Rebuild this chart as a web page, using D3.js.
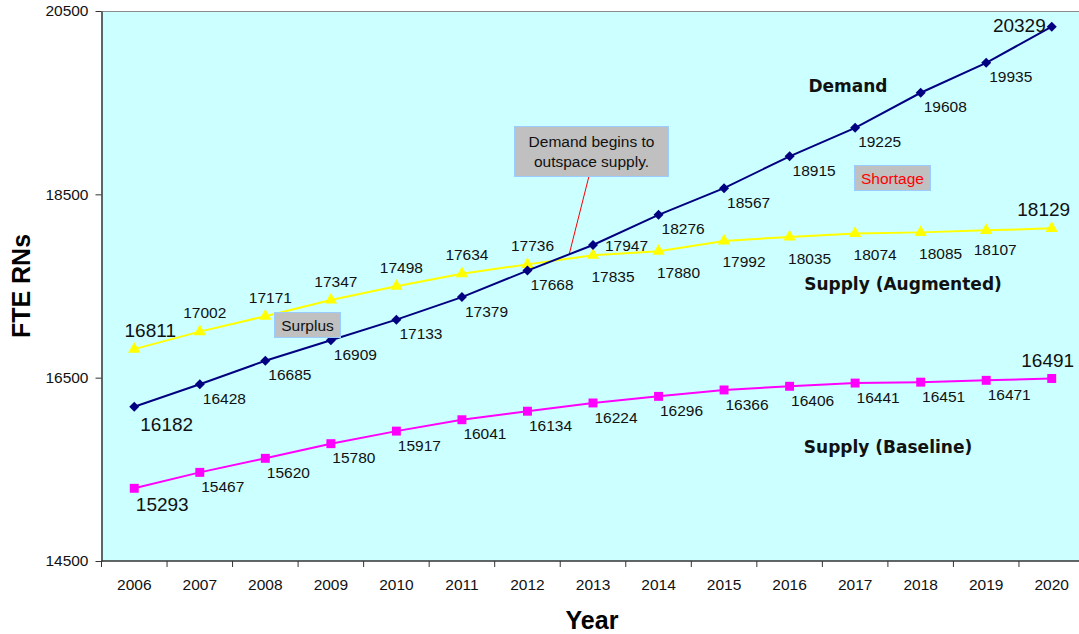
<!DOCTYPE html>
<html>
<head>
<meta charset="utf-8">
<script src="https://cdn.jsdelivr.net/npm/d3@7"></script>
<style>
  html, body { margin: 0; padding: 0; background: #ffffff; }
  svg { display: block; }
</style>
</head>
<body>
<svg id="chart" width="1079" height="634"></svg>
<script>
const categories = ['2006','2007','2008','2009','2010','2011','2012','2013','2014','2015','2016','2017','2018','2019','2020'];
const demand = [16182,16428,16685,16909,17133,17379,17668,17947,18276,18567,18915,19225,19608,19935,20329];
const supplyAugmented = [16811,17002,17171,17347,17498,17634,17736,17835,17880,17992,18035,18074,18085,18107,18129];
const supplyBaseline = [15293,15467,15620,15780,15917,16041,16134,16224,16296,16366,16406,16441,16451,16471,16491];
const yTicks = [14500,16500,18500,20500];
const seriesNames = ['Demand','Supply (Augmented)','Supply (Baseline)'];

(function () {
const svg = d3.select('#chart');
const pLeft = 101.5, pRight = 1084.5, pTop = 11, pBottom = 561;

const x = d3.scaleBand().domain(categories).range([pLeft, pRight]).padding(0);
const cx = c => x(c) + x.bandwidth() / 2;
const y = d3.scaleLinear().domain([14500, 20500]).range([pBottom, pTop]);

// plot background
svg.append('rect').attr('x', pLeft).attr('y', pTop).attr('width', pRight - pLeft).attr('height', pBottom - pTop)
  .attr('fill', '#CCFFFF');
// top border
svg.append('line').attr('x1', pLeft).attr('x2', pRight).attr('y1', pTop + 0.5).attr('y2', pTop + 0.5)
  .attr('stroke', '#8c8c8c').attr('stroke-width', 1);

// Y axis
const yAxis = svg.append('g').attr('transform', `translate(${pLeft},0)`)
  .call(d3.axisLeft(y).tickValues(yTicks).tickSize(6).tickSizeOuter(0).tickPadding(7).tickFormat(d3.format('d')));
yAxis.select('.domain').attr('stroke', '#333').attr('stroke-width', 1.5);
yAxis.selectAll('.tick line').attr('stroke', '#333');
yAxis.selectAll('text').attr('font-family', '"Liberation Sans", Arial, sans-serif').attr('font-size', 15.5).attr('fill', '#111');

// X axis labels
const xAxis = svg.append('g').attr('transform', `translate(0,${pBottom})`)
  .call(d3.axisBottom(x).tickSize(0).tickPadding(18).tickSizeOuter(0));
xAxis.select('.domain').remove();
xAxis.selectAll('text').attr('font-family', '"Liberation Sans", Arial, sans-serif').attr('font-size', 15.5).attr('fill', '#111');
svg.append('line').attr('x1', pLeft).attr('x2', pRight).attr('y1', pBottom).attr('y2', pBottom)
  .attr('stroke', '#333').attr('stroke-width', 1.5);
// boundary tick marks
svg.append('g').selectAll('line').data(categories.concat(['__end']))
  .join('line')
  .attr('x1', d => d === '__end' ? pRight : x(d))
  .attr('x2', d => d === '__end' ? pRight : x(d))
  .attr('y1', pBottom).attr('y2', pBottom + 6)
  .attr('stroke', '#333').attr('stroke-width', 1);

// axis titles
svg.append('text').attr('transform', 'translate(30,286) rotate(-90)')
  .attr('text-anchor', 'middle')
  .attr('font-family', '"Liberation Sans", Arial, sans-serif').attr('font-weight', 'bold').attr('font-size', 25)
  .text('FTE RNs');
svg.append('text').attr('x', 592).attr('y', 629)
  .attr('text-anchor', 'middle')
  .attr('font-family', '"Liberation Sans", Arial, sans-serif').attr('font-weight', 'bold').attr('font-size', 25)
  .text('Year');

// annotation: demand begins to outspace supply
const callout = svg.append('g');
callout.append('line').attr('x1', 589).attr('y1', 176).attr('x2', 569).attr('y2', 255)
  .attr('stroke', '#FF0000').attr('stroke-width', 1);
callout.append('rect').attr('x', 514.5).attr('y', 126.5).attr('width', 154).attr('height', 50)
  .attr('fill', '#C0C0C0').attr('stroke', '#99CCFF').attr('stroke-width', 1);
callout.append('text').attr('x', 591.5).attr('y', 146.5).attr('text-anchor', 'middle')
  .attr('font-family', '"Liberation Sans", Arial, sans-serif').attr('font-size', 15.5).attr('fill', '#111')
  .text('Demand begins to');
callout.append('text').attr('x', 591.5).attr('y', 166.5).attr('text-anchor', 'middle')
  .attr('font-family', '"Liberation Sans", Arial, sans-serif').attr('font-size', 15.5).attr('fill', '#111')
  .text('outspace supply.');

// series lines and markers
const series = [
  { name: seriesNames[0], values: demand, color: '#000080', symbol: 'diamond' },
  { name: seriesNames[1], values: supplyAugmented, color: '#FFFF00', symbol: 'triangle' },
  { name: seriesNames[2], values: supplyBaseline, color: '#FF00FF', symbol: 'square' }
];

const line = d3.line().x((d, i) => cx(categories[i])).y(d => y(d));

[series[2], series[1], series[0]].forEach(s => {
  const g = svg.append('g');
  g.append('path').datum(s.values).attr('d', line)
    .attr('fill', 'none').attr('stroke', s.color).attr('stroke-width', 2);
  let sym, size, rot = 0;
  if (s.symbol === 'diamond') { sym = d3.symbolSquare; size = 50; rot = 45; }
  else if (s.symbol === 'triangle') { sym = d3.symbolTriangle; size = 66; }
  else { sym = d3.symbolSquare; size = 80; }
  g.selectAll('path.m').data(s.values).join('path').attr('class', 'm')
    .attr('d', d3.symbol().type(sym).size(size))
    .attr('transform', (d, i) => `translate(${cx(categories[i])},${y(d)}) rotate(${rot})`)
    .attr('fill', s.color);
});

// data labels
function placement(si, i, n) {
  if (si === 0) {
    if (i === 0) return [6, 17, 'start', 19];
    if (i === n - 1) return [-6, -2, 'end', 19];
    if (i === 7) return [12, 0, 'start', 15.5];
    return [3, 14, 'start', 15.5];
  } else if (si === 1) {
    if (i === 0) return [16, -19, 'middle', 19];
    if (i === n - 1) return [-8, -19, 'middle', 19];
    if (i <= 6) return [5, -19, 'middle', 15.5];
    if (i === n - 2) return [9, 19, 'middle', 15.5];
    return [20, 21, 'middle', 15.5];
  } else {
    if (i === 0) return [28, 16, 'middle', 19];
    if (i === n - 1) return [-4, -18, 'middle', 19];
    return [23, 14, 'middle', 15.5];
  }
}
series.forEach((s, si) => {
  svg.append('g').selectAll('text').data(s.values).join('text')
    .each(function(d, i) {
      const p = placement(si, i, s.values.length);
      d3.select(this)
        .attr('x', cx(categories[i]) + p[0])
        .attr('y', y(d) + p[1])
        .attr('dy', '0.36em')
        .attr('text-anchor', p[2])
        .attr('font-size', p[3]);
    })
    .attr('font-family', '"Liberation Sans", Arial, sans-serif')
    .attr('fill', '#111')
    .text(d => d);
});

// series name labels
const nameStyle = sel => sel.attr('font-family', '"DejaVu Sans", Verdana, sans-serif').attr('font-weight', 'bold')
  .attr('font-size', 17).attr('text-anchor', 'middle').attr('dy', '0.36em').attr('fill', '#111');
svg.append('text').attr('x', 848).attr('y', 86).call(nameStyle).text(seriesNames[0]);
svg.append('text').attr('x', 903).attr('y', 284).call(nameStyle).text(seriesNames[1]);
svg.append('text').attr('x', 888).attr('y', 447).call(nameStyle).text(seriesNames[2]);

// Surplus / Shortage boxes
function box(x0, y0, w, h, label, color) {
  const g = svg.append('g');
  g.append('rect').attr('x', x0).attr('y', y0).attr('width', w).attr('height', h)
    .attr('fill', '#C0C0C0').attr('stroke', '#99CCFF').attr('stroke-width', 1);
  g.append('text').attr('x', x0 + w / 2).attr('y', y0 + h / 2).attr('dy', '0.36em')
    .attr('text-anchor', 'middle')
    .attr('font-family', '"Liberation Sans", Arial, sans-serif').attr('font-size', 15.5)
    .attr('fill', color).text(label);
}
box(274.5, 312.5, 66, 25, 'Surplus', '#111');
box(854.5, 165.5, 76, 25, 'Shortage', '#FF0000');
})();
</script>
</body>
</html>
